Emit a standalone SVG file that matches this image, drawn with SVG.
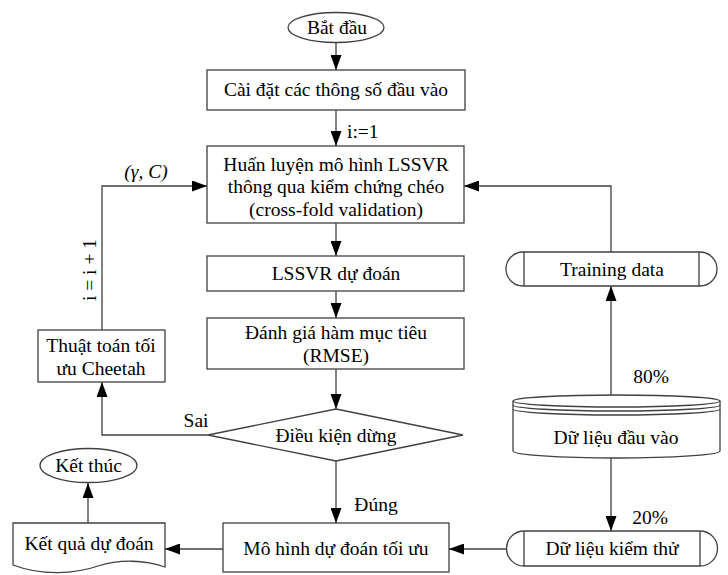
<svg xmlns="http://www.w3.org/2000/svg" width="728" height="575" viewBox="0 0 728 575">
<defs>
<marker id="ah" markerWidth="15" markerHeight="11" refX="15" refY="5.5" orient="auto" markerUnits="userSpaceOnUse">
<path d="M0,0 L15,5.5 L0,11 Z" fill="#000"/>
</marker>
<style>
.s{fill:#fff;stroke:#404040;stroke-width:1.3}
.t{font-family:"Liberation Serif","Times New Roman","DejaVu Serif",serif;font-size:19.5px;fill:#000;text-anchor:middle}
.l{fill:none;stroke:#404040;stroke-width:1.3}
</style>
</defs>
<rect width="728" height="575" fill="#fff"/>
<g id="connectors">
<path class="l" d="M336,42 V70" marker-end="url(#ah)"/>
<path class="l" d="M336,110 V146" marker-end="url(#ah)"/>
<path class="l" d="M336,223 V256" marker-end="url(#ah)"/>
<path class="l" d="M336,291 V318" marker-end="url(#ah)"/>
<path class="l" d="M336,369 V409" marker-end="url(#ah)"/>
<path class="l" d="M336,461 V523" marker-end="url(#ah)"/>
<path class="l" d="M208,435 H102 V382" marker-end="url(#ah)"/>
<path class="l" d="M102,330 V186 H207" marker-end="url(#ah)"/>
<path class="l" d="M611,252 V186 H464" marker-end="url(#ah)"/>
<path class="l" d="M611,396 V286" marker-end="url(#ah)"/>
<path class="l" d="M611,458 V531" marker-end="url(#ah)"/>
<path class="l" d="M507,549 H449" marker-end="url(#ah)"/>
<path class="l" d="M223,549 H165" marker-end="url(#ah)"/>
<path class="l" d="M88,523 V483" marker-end="url(#ah)"/>
<text class="t" x="347" y="138" style="text-anchor:start">i:=1</text>
<text class="t" x="146" y="178" font-style="italic">(γ, C)</text>
<text class="t" x="0" y="0" transform="translate(96,270) rotate(-90)">i = i + 1</text>
<text class="t" x="196" y="427">Sai</text>
<text class="t" x="376" y="511">Đúng</text>
<text class="t" x="651" y="383">80%</text>
<text class="t" x="650" y="524">20%</text>
</g>
<g id="start">
<ellipse class="s" cx="336" cy="27.5" rx="48" ry="15"/>
<text class="t" x="337" y="34">Bắt đầu</text>
</g>
<g id="setup">
<rect class="s" x="207" y="70" width="258" height="40"/>
<text class="t" x="336" y="96">Cài đặt các thông số đầu vào</text>
</g>
<g id="train">
<rect class="s" x="207" y="146" width="257" height="77"/>
<text class="t" x="336" y="171">Huấn luyện mô hình LSSVR</text>
<text class="t" x="336" y="193">thông qua kiểm chứng chéo</text>
<text class="t" x="336" y="216">(cross-fold validation)</text>
</g>
<g id="predict">
<rect class="s" x="207" y="256" width="257" height="35"/>
<text class="t" x="336" y="280">LSSVR dự đoán</text>
</g>
<g id="evaluate">
<rect class="s" x="207" y="318" width="257" height="51"/>
<text class="t" x="336" y="339">Đánh giá hàm mục tiêu</text>
<text class="t" x="336" y="362">(RMSE)</text>
</g>
<g id="condition">
<polygon class="s" points="336,409 463,435 336,461 208,435"/>
<text class="t" x="336" y="442">Điều kiện dừng</text>
</g>
<g id="cheetah">
<rect class="s" x="38" y="330" width="127" height="52"/>
<text class="t" x="101" y="352">Thuật toán tối</text>
<text class="t" x="101" y="375">ưu Cheetah</text>
</g>
<g id="optimal">
<rect class="s" x="223" y="523" width="226" height="49"/>
<text class="t" x="336" y="555">Mô hình dự đoán tối ưu</text>
</g>
<g id="result">
<path class="s" d="M13,523 H165 V567 C145,560 120,559 98,566 C75,574 42,576 13,565 Z"/>
<text class="t" x="89" y="550">Kết quả dự đoán</text>
</g>
<g id="end">
<ellipse class="s" cx="88.5" cy="465.5" rx="48.5" ry="17"/>
<text class="t" x="88.5" y="472">Kết thúc</text>
</g>
<g id="trainingdata">
<path class="s" d="M523,252 H700 A17,17 0 0 1 700,286 H523 A17,17 0 0 1 523,252 Z"/>
<path class="l" d="M524,252 V286 M699,252 V286"/>
<text class="t" x="612" y="276">Training data</text>
</g>
<g id="input">
<path class="s" d="M513,401 V451 A103.5,7 0 0 0 720,451 V401"/>
<ellipse class="s" cx="616.5" cy="401" rx="103.5" ry="6"/>
<path class="l" d="M513,405 A103.5,6 0 0 0 720,405 M513,409 A103.5,6 0 0 0 720,409"/>
<text class="t" x="616" y="444">Dữ liệu đầu vào</text>
</g>
<g id="test">
<path class="s" d="M524,531 H700 A17.5,17.5 0 0 1 700,566 H524 A17.5,17.5 0 0 1 524,531 Z"/>
<path class="l" d="M524,531 V566 M700,531 V566"/>
<text class="t" x="612" y="555">Dữ liệu kiểm thử</text>
</g>
</svg>
